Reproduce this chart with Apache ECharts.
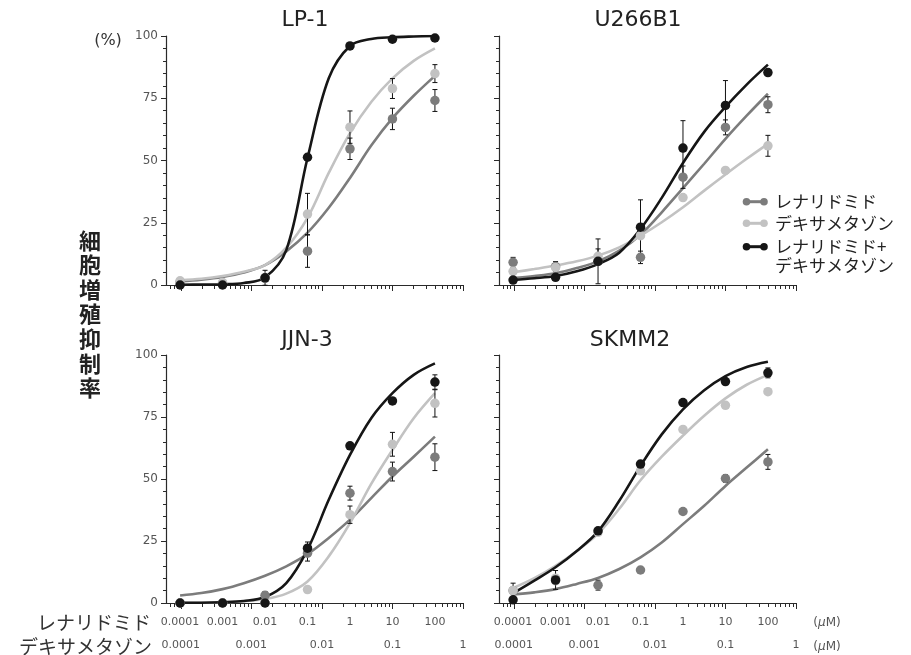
<!DOCTYPE html>
<html>
<head>
<meta charset="utf-8">
<script src="https://cdn.jsdelivr.net/npm/echarts@6/dist/echarts.min.js"></script>
<style>
  html, body { margin: 0; padding: 0; background: #fff; }
  #chart { width: 911px; height: 655px; }
</style>
</head>
<body>
<div id="chart"></div>
<script>
// Lenalidomide doses (µM), 4-fold dilution series
const doses = [0.009766, 0.03906, 0.1563, 0.625, 2.5, 10, 40];
// Doses at which the fitted curves are sampled (2-fold steps)
const curveDoses = [0.009766, 0.01953, 0.03906, 0.07813, 0.1563, 0.3125, 0.625, 1.25, 2.5, 5, 10, 20, 40];

// Tick label rows under the bottom panels
const lenDoseLabels = ['0.0001', '0.001', '0.01', '0.1', '1', '10', '100'];
const dexDoseLabels = ['0.0001', '0.001', '0.01', '0.1', '1'];
const dexLabelDoses = [0.01, 0.1, 1, 10, 100];

const seriesNames = ['レナリドミド', 'デキサメタゾン', 'レナリドミド+\nデキサメタゾン'];
const panelTitles = ['LP-1', 'U266B1', 'JJN-3', 'SKMM2'];

// ---- LP-1 ----
const lp1Len = [1.3, 0.7, 2.7, 13.6, 54.7, 66.7, 74.1];
const lp1LenErr = [0, 0, 0, 6.5, 4.3, 4.3, 4.4];
const lp1Dex = [1.7, 1.0, 3.0, 28.5, 63.4, 78.9, 84.9];
const lp1DexErr = [0, 0, 0, 8.3, 6.5, 4, 3.6];
const lp1Combo = [0, 0, 2.9, 51.3, 96, 98.7, 99.2];
const lp1ComboErr = [0, 0, 3, 0, 0, 0, 0];
const lp1LenCurve = [1.4, 2.1, 3.2, 5, 8, 13.5, 21, 31, 43, 56, 67, 76, 84];
const lp1DexCurve = [1.9, 2.5, 3.6, 5.3, 8, 15, 27, 45, 61, 73.5, 83, 90, 95];
const lp1ComboCurve = [0.1, 0.2, 0.3, 0.8, 3, 14, 51, 83, 96, 98.8, 99.5, 99.8, 100];

// ---- U266B1 ----
const uLen = [9.1, 7.4, 9.5, 11.1, 43.3, 63.3, 72.4];
const uLenErr = [2, 2, 0, 2.5, 4.5, 3, 3.2];
const uDex = [5.5, 7.0, 11.5, 19.8, 35.1, 46, 55.9];
const uDexErr = [0, 0, 3, 0, 0, 0, 4.2];
const uCombo = [2, 3.1, 9.5, 23.2, 55, 72.1, 85.3];
const uComboErr = [0, 0, 9, 11, 11, 10, 0];
const uLenCurve = [2.8, 3.6, 4.7, 6.8, 9.5, 13.8, 20.2, 29.2, 38.9, 48.7, 58.7, 68, 76.8];
const uDexCurve = [5.1, 6.4, 7.8, 9.5, 11.8, 15.1, 19.8, 25.2, 31.2, 37.9, 44.4, 50.7, 56.7];
const uComboCurve = [2.0, 2.7, 3.6, 5.5, 8.4, 13, 22.5, 35, 49, 61.5, 71.5, 80.5, 88.5];

// ---- JJN-3 ----
const jLen = [0, 0, 3.1, 20.1, 44.3, 53, 58.8];
const jLenErr = [0, 0, 1.5, 3.2, 2.8, 3.8, 5.4];
const jDex = [0, 0, 0, 5.4, 35.6, 64, 80.5];
const jDexErr = [0, 0, 0, 0, 3.5, 4.8, 5.5];
const jCombo = [0, 0, 0, 22.1, 63.4, 81.5, 89.1];
const jComboErr = [0, 0, 0, 2.5, 0, 0, 2.9];
const jLenCurve = [3, 4, 5.6, 8, 11, 14.8, 19.7, 26.2, 33.6, 42.3, 51, 59, 67.1];
const jDexCurve = [0.1, 0.1, 0.3, 0.7, 1.6, 3.8, 8.7, 18.8, 32.2, 48, 61.7, 74.5, 84.6];
const jComboCurve = [0.1, 0.1, 0.3, 0.8, 2.4, 8, 21.5, 41.6, 59.7, 74.5, 84.6, 92, 96.6];

// ---- SKMM2 ----
const sLen = [5, 9, 7.2, 13.3, 36.9, 50.2, 56.9];
const sLenErr = [3, 0, 2, 0, 0, 1.5, 3];
const sDex = [5, 10, 28.5, 53.3, 70, 79.7, 85.2];
const sDexErr = [0, 0, 0, 0, 0, 0, 0];
const sCombo = [1.3, 9.3, 29.1, 56, 80.8, 89.3, 92.8];
const sComboErr = [0, 3.8, 0, 0, 0, 0, 2];
const sLenCurve = [3.4, 4.3, 5.6, 7.7, 10.1, 13.7, 18.4, 24.4, 31.8, 39.2, 47.2, 54.6, 62];
const sDexCurve = [6, 10, 15, 21, 28, 38, 49.5, 59, 67.5, 75.5, 82.5, 88, 92];
const sComboCurve = [3.9, 9, 14.4, 21, 28.9, 41.2, 55.3, 68, 78.1, 85.8, 91.5, 95.2, 97.3];

// Styling
const COLORS = ['#7c7c7c', '#c2c2c2', '#161616'];
const AXIS_COLOR = '#2a2a2a';
const NUM_FONT = 'DejaVu Sans';
const JP_FONT = '"Noto Sans CJK JP", "Noto Sans", sans-serif';

const X_MIN = -2.21, X_MAX = 2;
const majorTicks = [-2, -1, 0, 1, 2];
const minorTicks = [];
for (let n = -3; n <= 1; n++) {
  for (let k = 2; k <= 9; k++) {
    const v = n + Math.log10(k);
    if (v > X_MIN && v < X_MAX) minorTicks.push(v);
  }
}

const panels = [
  { title: panelTitles[0], grid: { left: 166, top: 36, width: 297, height: 249 }, titleX: 305, titleY: 20, yLabels: true, xLabels: false,
    pts: [lp1Len, lp1Dex, lp1Combo], errs: [lp1LenErr, lp1DexErr, lp1ComboErr], curves: [lp1LenCurve, lp1DexCurve, lp1ComboCurve] },
  { title: panelTitles[1], grid: { left: 499, top: 36, width: 297, height: 249 }, titleX: 638, titleY: 20, yLabels: false, xLabels: false,
    pts: [uLen, uDex, uCombo], errs: [uLenErr, uDexErr, uComboErr], curves: [uLenCurve, uDexCurve, uComboCurve] },
  { title: panelTitles[2], grid: { left: 166, top: 355, width: 297, height: 248 }, titleX: 307, titleY: 340, yLabels: true, xLabels: true,
    pts: [jLen, jDex, jCombo], errs: [jLenErr, jDexErr, jComboErr], curves: [jLenCurve, jDexCurve, jComboCurve] },
  { title: panelTitles[3], grid: { left: 499, top: 355, width: 297, height: 248 }, titleX: 630, titleY: 340, yLabels: false, xLabels: true,
    pts: [sLen, sDex, sCombo], errs: [sLenErr, sDexErr, sComboErr], curves: [sLenCurve, sDexCurve, sComboCurve] }
];

const grids = [], xAxes = [], yAxes = [], series = [];

function labelFor(values, labels) {
  return function (v) {
    for (let i = 0; i < values.length; i++) {
      if (Math.abs(Math.log10(values[i]) - v) < 1e-6) return labels[i];
    }
    return '';
  };
}

panels.forEach((p, gi) => {
  grids.push(Object.assign({ containLabel: false }, p.grid));

  const mainX = xAxes.length;
  xAxes.push({
    gridIndex: gi, type: 'value', min: X_MIN, max: X_MAX, position: 'bottom',
    axisLine: { show: true, onZero: false, lineStyle: { color: AXIS_COLOR, width: 1.2 } },
    axisTick: { show: true, customValues: majorTicks, length: 6, lineStyle: { color: AXIS_COLOR, width: 1 } },
    axisLabel: { show: false }, splitLine: { show: false }
  });
  xAxes.push({
    gridIndex: gi, type: 'value', min: X_MIN, max: X_MAX, position: 'bottom',
    axisLine: { show: false, onZero: false },
    axisTick: { show: true, customValues: minorTicks, length: 4, lineStyle: { color: AXIS_COLOR, width: 1 } },
    axisLabel: { show: false }, splitLine: { show: false }
  });
  if (p.xLabels) {
    xAxes.push({
      gridIndex: gi, type: 'value', min: X_MIN, max: X_MAX, position: 'bottom',
      axisLine: { show: false, onZero: false }, axisTick: { show: false }, splitLine: { show: false },
      axisLabel: {
        show: true, customValues: doses.map(d => Math.log10(d)), margin: 14,
        fontFamily: NUM_FONT, fontSize: 11, color: '#555',
        formatter: labelFor(doses, lenDoseLabels)
      }
    });
    xAxes.push({
      gridIndex: gi, type: 'value', min: X_MIN, max: X_MAX, position: 'bottom',
      axisLine: { show: false, onZero: false }, axisTick: { show: false }, splitLine: { show: false },
      axisLabel: {
        show: true, customValues: dexLabelDoses.map(d => Math.log10(d)), margin: 37,
        fontFamily: NUM_FONT, fontSize: 11, color: '#555',
        formatter: labelFor(dexLabelDoses, dexDoseLabels)
      }
    });
  }

  yAxes.push({
    gridIndex: gi, type: 'value', min: 0, max: 100, interval: 25,
    axisLine: { show: true, onZero: false, lineStyle: { color: AXIS_COLOR, width: 1.2 } },
    axisTick: { show: true, length: 5, lineStyle: { color: AXIS_COLOR, width: 1 } },
    minorTick: { show: true, splitNumber: 5, length: 3, lineStyle: { color: AXIS_COLOR, width: 1 } },
    axisLabel: { show: p.yLabels, fontFamily: NUM_FONT, fontSize: 12, color: '#555', margin: 8 },
    splitLine: { show: false }
  });

  // fitted curves
  p.curves.forEach((c, si) => {
    series.push({
      type: 'line', name: seriesNames[si], xAxisIndex: mainX, yAxisIndex: gi,
      data: curveDoses.map((d, k) => [Math.log10(d), c[k]]),
      smooth: 0.35, showSymbol: false, symbol: 'none',
      lineStyle: { color: COLORS[si], width: 2.6 }, z: 2 + si * 0.1, silent: true
    });
  });

  // error bars
  const errRows = [];
  p.pts.forEach((vals, si) => {
    vals.forEach((v, k) => {
      if (p.errs[si][k] > 0) errRows.push([Math.log10(doses[k]), v, p.errs[si][k]]);
    });
  });
  series.push({
    type: 'custom', xAxisIndex: mainX, yAxisIndex: gi, z: 3, silent: true,
    data: errRows,
    encode: { x: 0, y: 1 },
    renderItem: function (params, api) {
      const x = api.value(0), y = api.value(1), e = api.value(2);
      const top = api.coord([x, y + e]);
      const bot = api.coord([x, y - e]);
      const st = { stroke: '#111', lineWidth: 1 };
      return {
        type: 'group',
        children: [
          { type: 'line', shape: { x1: top[0], y1: top[1], x2: bot[0], y2: bot[1] }, style: st },
          { type: 'line', shape: { x1: top[0] - 2.5, y1: top[1], x2: top[0] + 2.5, y2: top[1] }, style: st },
          { type: 'line', shape: { x1: bot[0] - 2.5, y1: bot[1], x2: bot[0] + 2.5, y2: bot[1] }, style: st }
        ]
      };
    }
  });

  // measured points
  p.pts.forEach((vals, si) => {
    series.push({
      type: 'scatter', name: seriesNames[si], xAxisIndex: mainX, yAxisIndex: gi,
      data: vals.map((v, k) => [Math.log10(doses[k]), v]),
      symbol: 'circle', symbolSize: 9.5, clip: false, silent: true,
      itemStyle: { color: COLORS[si], opacity: 1 }, z: 4 + si * 0.1
    });
  });
});

// texts and legend
const graphics = [];
panels.forEach(p => {
  graphics.push({
    type: 'text', x: p.titleX, y: p.titleY,
    style: { text: p.title, font: '22px "DejaVu Sans"', fill: '#222', align: 'center', verticalAlign: 'middle' }
  });
});
graphics.push({
  type: 'text', x: 108, y: 41,
  style: { text: '(%)', font: '16px "DejaVu Sans"', fill: '#333', align: 'center', verticalAlign: 'middle' }
});
graphics.push({
  type: 'text', x: 90, y: 228,
  style: {
    text: '細\n胞\n増\n殖\n抑\n制\n率', font: 'bold 22px ' + JP_FONT, lineHeight: 24.6,
    fill: '#222', align: 'center', verticalAlign: 'top'
  }
});
graphics.push({
  type: 'text', x: 151, y: 623,
  style: { text: 'レナリドミド', font: '19px ' + JP_FONT, fill: '#333', align: 'right', verticalAlign: 'middle' }
});
graphics.push({
  type: 'text', x: 152, y: 647,
  style: { text: 'デキサメタゾン', font: '19px ' + JP_FONT, fill: '#333', align: 'right', verticalAlign: 'middle' }
});
[623, 647].forEach(y => {
  graphics.push({
    type: 'text', x: 827, y: y,
    style: {
      text: '({i|μ}M)', font: '12px "DejaVu Sans"', fill: '#555', align: 'center', verticalAlign: 'middle',
      rich: { i: { fontStyle: 'italic', fontFamily: 'DejaVu Sans', fontSize: 12, fill: '#555' } }
    }
  });
});

const legendRows = [201.7, 223.3, 246.7];
seriesNames.forEach((name, i) => {
  const y = legendRows[i];
  graphics.push({
    type: 'group', children: [
      { type: 'line', shape: { x1: 745, y1: y, x2: 765, y2: y }, style: { stroke: COLORS[i], lineWidth: 3 } },
      { type: 'circle', shape: { cx: 746.5, cy: y, r: 3.8 }, style: { fill: COLORS[i] } },
      { type: 'circle', shape: { cx: 764, cy: y, r: 3.8 }, style: { fill: COLORS[i] } },
      { type: 'text', x: 775, y: y - 9.25,
        style: { text: name, font: '17px ' + JP_FONT, lineHeight: 18.5, fill: '#222', align: 'left', verticalAlign: 'top' } }
    ]
  });
});

const chart = echarts.init(document.getElementById('chart'), null, { renderer: 'canvas' });
chart.setOption({
  animation: false,
  backgroundColor: '#fff',
  grid: grids,
  xAxis: xAxes,
  yAxis: yAxes,
  series: series,
  graphic: graphics
});
</script>
</body>
</html>
